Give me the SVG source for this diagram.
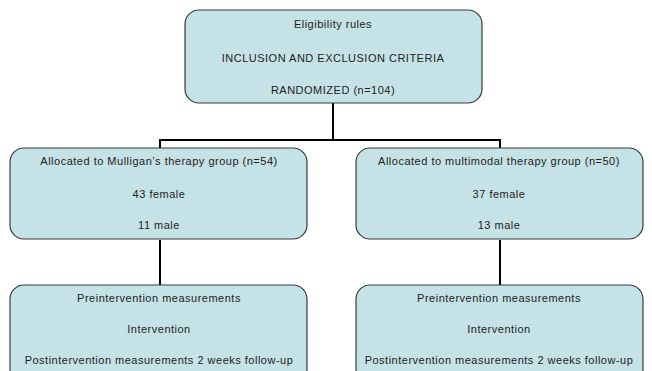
<svg xmlns="http://www.w3.org/2000/svg" width="652" height="371" viewBox="0 0 652 371">
<style>
.box{fill:#c5e3e6;stroke:#3a3a3a;stroke-width:1.2}
.t{font-family:"Liberation Sans",Arial,sans-serif;font-size:11px;letter-spacing:0.5px;fill:#222;text-anchor:middle}
.c{fill:none;stroke:#000;stroke-width:2}
</style>
<rect width="652" height="371" fill="#fff"/>
<g id="connectors">
<path class="c" d="M333 103V140M160 140H500M160 139V148M500 139V148"/>
<path class="c" d="M160 240V285M500 240V285"/>
</g>
<g id="top">
<rect class="box" x="185" y="10" width="297" height="93" rx="14"/>
<text class="t" x="333" y="28">Eligibility rules</text>
<text class="t" x="333" y="62">INCLUSION AND EXCLUSION CRITERIA</text>
<text class="t" x="333" y="94">RANDOMIZED (n=104)</text>
</g>
<g id="left-group">
<rect class="box" x="10" y="148" width="297" height="91" rx="14"/>
<text class="t" x="159" y="165">Allocated to Mulligan’s therapy group (n=54)</text>
<text class="t" x="159" y="198">43 female</text>
<text class="t" x="159" y="229">11 male</text>
</g>
<g id="right-group">
<rect class="box" x="356" y="148" width="287" height="91" rx="14"/>
<text class="t" x="499" y="165">Allocated to multimodal therapy group (n=50)</text>
<text class="t" x="499" y="198">37 female</text>
<text class="t" x="499" y="229">13 male</text>
</g>
<g id="left-measure">
<rect class="box" x="10" y="285" width="297" height="100" rx="14"/>
<text class="t" x="159" y="302">Preintervention measurements</text>
<text class="t" x="159" y="333">Intervention</text>
<text class="t" x="159" y="364">Postintervention measurements 2 weeks follow-up</text>
</g>
<g id="right-measure">
<rect class="box" x="356" y="285" width="287" height="100" rx="14"/>
<text class="t" x="499" y="302">Preintervention measurements</text>
<text class="t" x="499" y="333">Intervention</text>
<text class="t" x="499" y="364">Postintervention measurements 2 weeks follow-up</text>
</g>
</svg>
